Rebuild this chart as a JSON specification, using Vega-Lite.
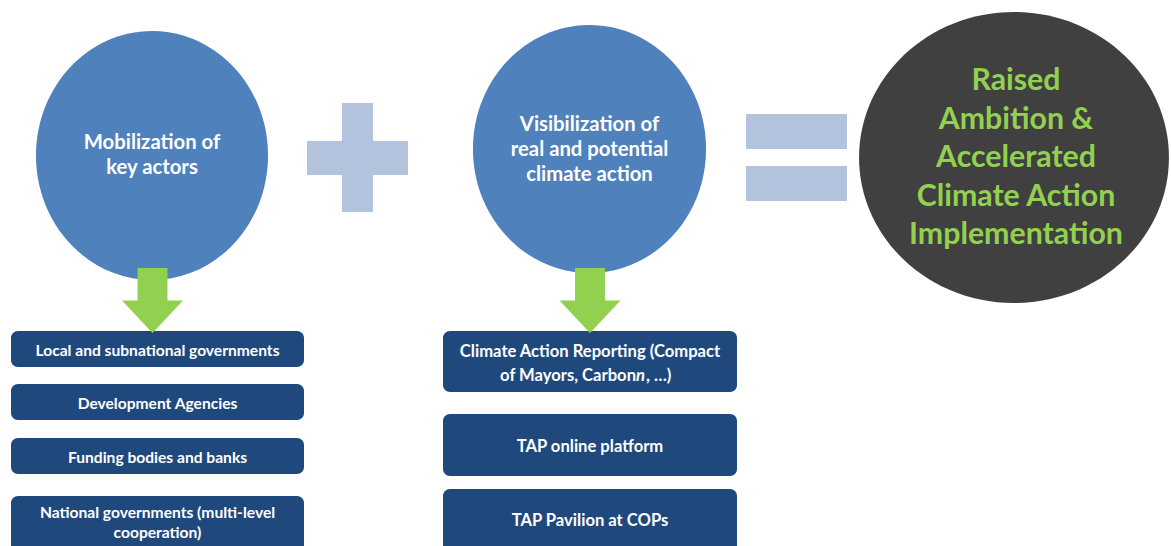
{
  "$schema": "https://vega.github.io/schema/vega-lite/v6.json",
  "width": 1171,
  "height": 546,
  "autosize": {"type": "fit", "contains": "padding"},
  "padding": 0,
  "background": "white",
  "config": {"view": {"stroke": null}, "axis": {"disable": true}},
  "datasets": {
    "ellipses": [
      {"id": "mobilization", "cx": 152, "cy": 155.5},
      {"id": "visibilization", "cx": 589.5, "cy": 149},
      {"id": "result", "cx": 1014, "cy": 157.5}
    ],
    "rects": [
      {"kind": "sign", "x1": 342, "x2": 373, "y1": 103, "y2": 212},
      {"kind": "sign", "x1": 307, "x2": 408, "y1": 141, "y2": 175},
      {"kind": "sign", "x1": 746, "x2": 847, "y1": 114, "y2": 149},
      {"kind": "sign", "x1": 746, "x2": 847, "y1": 166, "y2": 201},
      {"kind": "box", "x1": 11, "x2": 304, "y1": 331, "y2": 367},
      {"kind": "box", "x1": 11, "x2": 304, "y1": 384, "y2": 420},
      {"kind": "box", "x1": 11, "x2": 304, "y1": 438, "y2": 474},
      {"kind": "box", "x1": 11, "x2": 304, "y1": 496, "y2": 560},
      {"kind": "box", "x1": 443, "x2": 737, "y1": 331, "y2": 392},
      {"kind": "box", "x1": 443, "x2": 737, "y1": 414, "y2": 476},
      {"kind": "box", "x1": 443, "x2": 737, "y1": 489, "y2": 560}
    ],
    "arrows": [
      {"cx": 152.5, "cy": 300.5},
      {"cx": 590, "cy": 300.5}
    ],
    "texts": [
      {"group": "circle", "x": 152, "y": 143, "text": "Mobilization of"},
      {"group": "circle", "x": 152, "y": 168, "text": "key actors"},
      {"group": "circle", "x": 589.5, "y": 125, "text": "Visibilization of"},
      {"group": "circle", "x": 589.5, "y": 150, "text": "real and potential"},
      {"group": "circle", "x": 589.5, "y": 175, "text": "climate action"},
      {"group": "result", "x": 1016, "y": 81, "text": "Raised"},
      {"group": "result", "x": 1016, "y": 120, "text": "Ambition &"},
      {"group": "result", "x": 1016, "y": 158, "text": "Accelerated"},
      {"group": "result", "x": 1016, "y": 197, "text": "Climate Action"},
      {"group": "result", "x": 1016, "y": 235, "text": "Implementation"},
      {"group": "box", "x": 157.5, "y": 351, "text": "Local and subnational governments"},
      {"group": "box", "x": 157.5, "y": 404, "text": "Development Agencies"},
      {"group": "box", "x": 157.5, "y": 458, "text": "Funding bodies and banks"},
      {"group": "box", "x": 157.5, "y": 513, "text": "National governments (multi-level"},
      {"group": "box", "x": 157.5, "y": 533, "text": "cooperation)"},
      {"group": "box2", "x": 590, "y": 352, "text": "Climate Action Reporting (Compact"},
      {"group": "box2right", "x": 636, "y": 376, "text": "of Mayors, Carbon"},
      {"group": "box2italic", "x": 636, "y": 376, "text": "n"},
      {"group": "box2left", "x": 646, "y": 376, "text": ", …)"},
      {"group": "box2", "x": 590, "y": 447, "text": "TAP online platform"},
      {"group": "box2", "x": 590, "y": 521, "text": "TAP Pavilion at COPs"}
    ]
  },
  "layer": [
    {
      "data": {"name": "ellipses"},
      "transform": [{"filter": "datum.id === 'mobilization'"}],
      "mark": {"type": "point", "filled": true, "opacity": 1, "color": "#4f81bd", "strokeWidth": 0, "size": 62001,
               "shape": "M -0.932 0 A 0.932 1 0 1 0 0.932 0 A 0.932 1 0 1 0 -0.932 0 Z", "clip": true},
      "encoding": {
        "x": {"field": "cx", "type": "quantitative", "scale": {"domain": [0, 1171], "nice": false, "zero": false}},
        "y": {"field": "cy", "type": "quantitative", "scale": {"domain": [0, 546], "nice": false, "zero": false, "reverse": true}}
      }
    },
    {
      "data": {"name": "ellipses"},
      "transform": [{"filter": "datum.id === 'visibilization'"}],
      "mark": {"type": "point", "filled": true, "opacity": 1, "color": "#4f81bd", "strokeWidth": 0, "size": 61504,
               "shape": "M -0.94 0 A 0.94 1 0 1 0 0.94 0 A 0.94 1 0 1 0 -0.94 0 Z", "clip": true},
      "encoding": {
        "x": {"field": "cx", "type": "quantitative"},
        "y": {"field": "cy", "type": "quantitative"}
      }
    },
    {
      "data": {"name": "ellipses"},
      "transform": [{"filter": "datum.id === 'result'"}],
      "mark": {"type": "point", "filled": true, "opacity": 1, "color": "#404040", "strokeWidth": 0, "size": 84681,
               "shape": "M -1.065 0 A 1.065 1 0 1 0 1.065 0 A 1.065 1 0 1 0 -1.065 0 Z", "clip": true},
      "encoding": {
        "x": {"field": "cx", "type": "quantitative"},
        "y": {"field": "cy", "type": "quantitative"}
      }
    },
    {
      "data": {"name": "rects"},
      "transform": [{"filter": "datum.kind === 'sign'"}],
      "mark": {"type": "rect", "color": "#b3c3dd", "clip": true},
      "encoding": {
        "x": {"field": "x1", "type": "quantitative"},
        "x2": {"field": "x2"},
        "y": {"field": "y1", "type": "quantitative"},
        "y2": {"field": "y2"}
      }
    },
    {
      "data": {"name": "rects"},
      "transform": [{"filter": "datum.kind === 'box'"}],
      "mark": {"type": "rect", "color": "#1f497d", "cornerRadius": 7, "clip": true},
      "encoding": {
        "x": {"field": "x1", "type": "quantitative"},
        "x2": {"field": "x2"},
        "y": {"field": "y1", "type": "quantitative"},
        "y2": {"field": "y2"}
      }
    },
    {
      "data": {"name": "arrows"},
      "mark": {"type": "point", "filled": true, "opacity": 1, "color": "#92d050", "strokeWidth": 0, "size": 3721,
               "shape": "M -0.49 -1.066 L 0.49 -1.066 L 0.49 0 L 1 0 L 0 1.066 L -1 0 L -0.49 0 Z", "clip": true},
      "encoding": {
        "x": {"field": "cx", "type": "quantitative"},
        "y": {"field": "cy", "type": "quantitative"}
      }
    },
    {
      "data": {"name": "texts"},
      "transform": [{"filter": "datum.group === 'circle'"}],
      "mark": {"type": "text", "font": "Lato", "fontWeight": "bold", "fontSize": 20.3, "color": "white", "align": "center", "baseline": "middle"},
      "encoding": {
        "x": {"field": "x", "type": "quantitative"},
        "y": {"field": "y", "type": "quantitative"},
        "text": {"field": "text"}
      }
    },
    {
      "data": {"name": "texts"},
      "transform": [{"filter": "datum.group === 'result'"}],
      "mark": {"type": "text", "font": "Lato", "fontWeight": "bold", "fontSize": 30.3, "color": "#92d050", "align": "center", "baseline": "middle"},
      "encoding": {
        "x": {"field": "x", "type": "quantitative"},
        "y": {"field": "y", "type": "quantitative"},
        "text": {"field": "text"}
      }
    },
    {
      "data": {"name": "texts"},
      "transform": [{"filter": "datum.group === 'box'"}],
      "mark": {"type": "text", "font": "Lato", "fontWeight": "bold", "fontSize": 15.6, "color": "white", "align": "center", "baseline": "middle"},
      "encoding": {
        "x": {"field": "x", "type": "quantitative"},
        "y": {"field": "y", "type": "quantitative"},
        "text": {"field": "text"}
      }
    },
    {
      "data": {"name": "texts"},
      "transform": [{"filter": "datum.group === 'box2'"}],
      "mark": {"type": "text", "font": "Lato", "fontWeight": "bold", "fontSize": 16.6, "color": "white", "align": "center", "baseline": "middle"},
      "encoding": {
        "x": {"field": "x", "type": "quantitative"},
        "y": {"field": "y", "type": "quantitative"},
        "text": {"field": "text"}
      }
    },
    {
      "data": {"name": "texts"},
      "transform": [{"filter": "datum.group === 'box2right'"}],
      "mark": {"type": "text", "font": "Lato", "fontWeight": "bold", "fontSize": 16.6, "color": "white", "align": "right", "baseline": "middle"},
      "encoding": {
        "x": {"field": "x", "type": "quantitative"},
        "y": {"field": "y", "type": "quantitative"},
        "text": {"field": "text"}
      }
    },
    {
      "data": {"name": "texts"},
      "transform": [{"filter": "datum.group === 'box2italic'"}],
      "mark": {"type": "text", "font": "Lato", "fontWeight": "bold", "fontStyle": "italic", "fontSize": 16.6, "color": "white", "align": "left", "baseline": "middle"},
      "encoding": {
        "x": {"field": "x", "type": "quantitative"},
        "y": {"field": "y", "type": "quantitative"},
        "text": {"field": "text"}
      }
    },
    {
      "data": {"name": "texts"},
      "transform": [{"filter": "datum.group === 'box2left'"}],
      "mark": {"type": "text", "font": "Lato", "fontWeight": "bold", "fontSize": 16.6, "color": "white", "align": "left", "baseline": "middle"},
      "encoding": {
        "x": {"field": "x", "type": "quantitative"},
        "y": {"field": "y", "type": "quantitative"},
        "text": {"field": "text"}
      }
    }
  ]
}
